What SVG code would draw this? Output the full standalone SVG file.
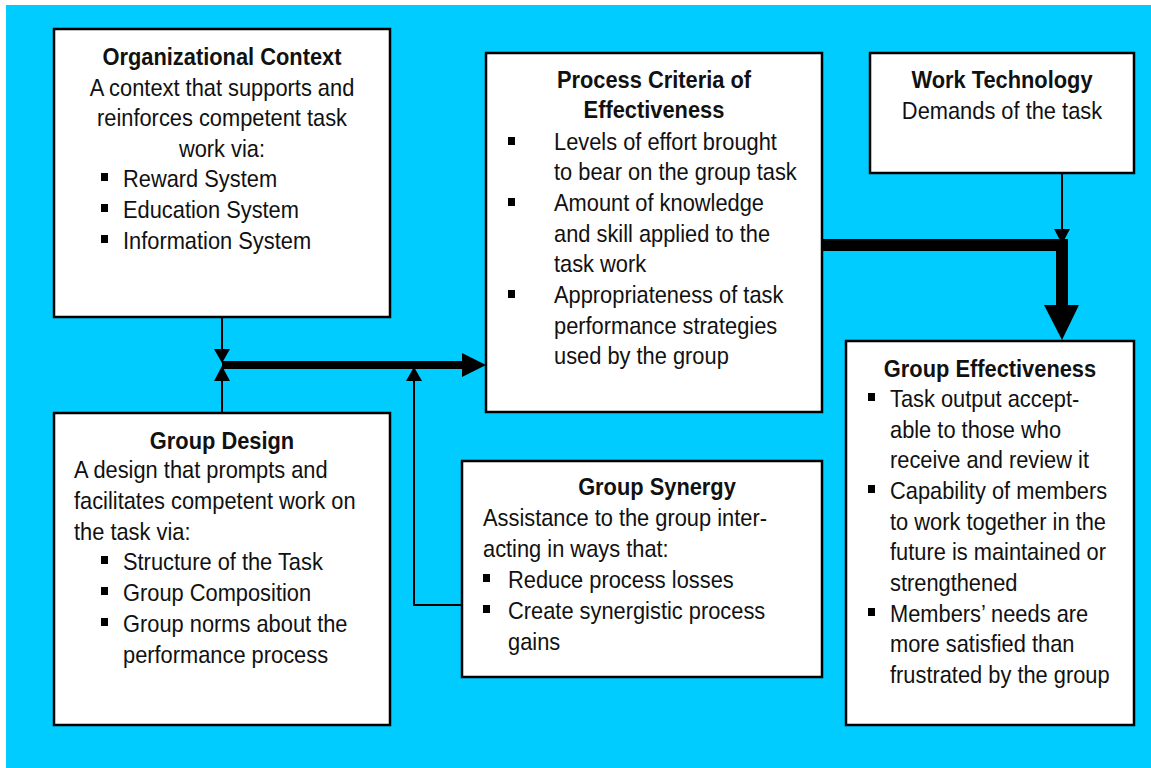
<svg xmlns="http://www.w3.org/2000/svg" width="1151" height="768" viewBox="0 0 1151 768">
<style>
.box{fill:#fff;stroke:#000;stroke-width:2.5}
text{font-family:"Liberation Sans",Arial,sans-serif;font-size:24px;fill:#111}
.t{font-weight:bold;text-anchor:middle}
.c{text-anchor:middle}
.thin{stroke:#000;stroke-width:2;fill:none}
.blt{fill:#000}
</style>
<defs>
<rect id="b" width="7" height="8" class="blt"/>
</defs>
<rect x="0" y="0" width="1151" height="768" fill="#fff"/>
<rect x="6" y="5" width="1145" height="763" fill="#00CCFF"/>

<g id="connectors">
<line x1="222" y1="317" x2="222" y2="352" class="thin"/>
<polygon points="214,349 230,349 222,363"/>
<line x1="222" y1="413" x2="222" y2="378" class="thin"/>
<polygon points="214,381 230,381 222,366"/>
<line x1="222" y1="365" x2="465" y2="365" stroke="#000" stroke-width="8"/>
<polygon points="462,353 486,365 462,377"/>
<polyline points="462,605 414,605 414,378" class="thin"/>
<polygon points="406,381 422,381 414,367"/>
<line x1="1062" y1="173" x2="1062" y2="232" class="thin"/>
<polygon points="1054,229 1070,229 1062,244"/>
<polyline points="822,245 1062,245 1062,308" fill="none" stroke="#000" stroke-width="12"/>
<polygon points="1044,305 1079,305 1062,340"/>
</g>

<g id="org-context">
<rect x="54" y="29" width="336" height="288" class="box"/>
<use href="#b" x="101" y="173"/><use href="#b" x="101" y="204"/><use href="#b" x="101" y="235"/>
<g transform="matrix(0.91,0,0,1,0,0)">
<text x="243.96" y="65" class="t">Organizational Context</text>
<text x="243.96" y="96" class="c">A context that supports and</text>
<text x="243.96" y="126" class="c">reinforces competent task</text>
<text x="243.96" y="157" class="c">work via:</text>
<text x="135.16" y="187">Reward System</text>
<text x="135.16" y="218">Education System</text>
<text x="135.16" y="249">Information System</text>
</g>
</g>

<g id="process-criteria">
<rect x="486" y="53" width="336" height="359" class="box"/>
<use href="#b" x="508" y="137"/><use href="#b" x="508" y="198"/><use href="#b" x="508" y="290"/>
<g transform="matrix(0.91,0,0,1,0,0)">
<text x="718.68" y="88" class="t">Process Criteria of</text>
<text x="718.68" y="118" class="t">Effectiveness</text>
<text x="608.79" y="150">Levels of effort brought</text>
<text x="608.79" y="180">to bear on the group task</text>
<text x="608.79" y="211">Amount of knowledge</text>
<text x="608.79" y="242">and skill applied to the</text>
<text x="608.79" y="272">task work</text>
<text x="608.79" y="303">Appropriateness of task</text>
<text x="608.79" y="334">performance strategies</text>
<text x="608.79" y="364">used by the group</text>
</g>
</g>

<g id="work-technology">
<rect x="870" y="53" width="264" height="120" class="box"/>
<g transform="matrix(0.91,0,0,1,0,0)">
<text x="1101.1" y="88" class="t">Work Technology</text>
<text x="1101.1" y="119" class="c">Demands of the task</text>
</g>
</g>

<g id="group-effectiveness">
<rect x="846" y="341" width="288" height="384" class="box"/>
<use href="#b" x="868" y="393"/><use href="#b" x="868" y="485"/><use href="#b" x="868" y="608"/>
<g transform="matrix(0.91,0,0,1,0,0)">
<text x="1087.91" y="377" class="t">Group Effectiveness</text>
<text x="978.02" y="407">Task output accept-</text>
<text x="978.02" y="438">able to those who</text>
<text x="978.02" y="468">receive and review it</text>
<text x="978.02" y="499">Capability of members</text>
<text x="978.02" y="530">to work together in the</text>
<text x="978.02" y="560">future is maintained or</text>
<text x="978.02" y="591">strengthened</text>
<text x="978.02" y="622">Members’ needs are</text>
<text x="978.02" y="652">more satisfied than</text>
<text x="978.02" y="683">frustrated by the group</text>
</g>
</g>

<g id="group-design">
<rect x="54" y="413" width="336" height="312" class="box"/>
<use href="#b" x="101" y="556"/><use href="#b" x="101" y="587"/><use href="#b" x="101" y="618"/>
<g transform="matrix(0.91,0,0,1,0,0)">
<text x="243.96" y="449" class="t">Group Design</text>
<text x="81.32" y="478">A design that prompts and</text>
<text x="81.32" y="509">facilitates competent work on</text>
<text x="81.32" y="540">the task via:</text>
<text x="135.16" y="570">Structure of the Task</text>
<text x="135.16" y="601">Group Composition</text>
<text x="135.16" y="632">Group norms about the</text>
<text x="135.16" y="663">performance process</text>
</g>
</g>

<g id="group-synergy">
<rect x="462" y="461" width="360" height="216" class="box"/>
<use href="#b" x="483" y="574"/><use href="#b" x="483" y="605"/>
<g transform="matrix(0.91,0,0,1,0,0)">
<text x="721.98" y="495" class="t">Group Synergy</text>
<text x="530.77" y="526">Assistance to the group inter-</text>
<text x="530.77" y="557">acting in ways that:</text>
<text x="558.24" y="588">Reduce process losses</text>
<text x="558.24" y="619">Create synergistic process</text>
<text x="558.24" y="650">gains</text>
</g>
</g>
</svg>
